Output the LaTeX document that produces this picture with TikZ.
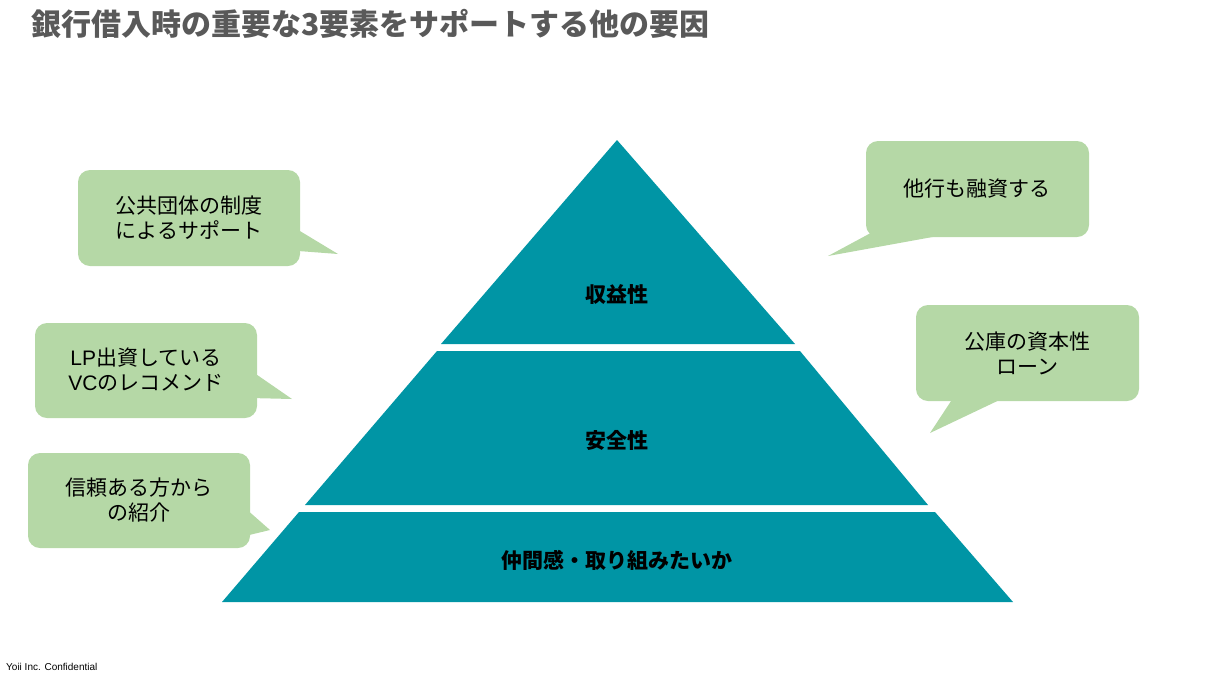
\documentclass[tikz,border=0pt]{standalone}
\usepackage{fontspec}
\newfontfamily\jp{Noto Sans CJK JP}
\newfontfamily\lat{Liberation Sans}
\definecolor{teal1}{HTML}{0095A5}
\definecolor{bub}{HTML}{B5D8A6}
\definecolor{ttl}{HTML}{595959}
\begin{document}
\begin{tikzpicture}[x=1pt,y=-1pt,
 bubble/.style={fill=bub,draw=none,rounded corners=12pt},
 btext/.style={font=\jp\fontsize{21}{25}\selectfont,align=center,text=black},
 ptext/.style={font=\jp\bfseries\fontsize{21}{25}\selectfont,text=black}]
\useasboundingbox (0,0) rectangle (1212,678);
% pyramid
\fill[teal1] (617,140) -- (795,344) -- (441,344) -- cycle;
\fill[teal1] (437,351) -- (800,351) -- (928,505) -- (305,505) -- cycle;
\fill[teal1] (299,512) -- (935,512) -- (1013,602) -- (222,602) -- cycle;
\node[ptext] (p1) at (617,295) {収益性};
\node[ptext] (p2) at (617,440) {安全性};
\node[ptext] (p3) at (617,560) {仲間感・取り組みたいか};
% bubbles
\fill[bub] (285,222) -- (285,250) -- (338,254) -- cycle;
\fill[bubble] (78,170) rectangle (300,266);
\node[btext] (b1) at (189,218) {公共団体の制度\\によるサポート};
\fill[bub] (250,370) -- (250,398) -- (292,399) -- cycle;
\fill[bubble] (35,323) rectangle (257,418);
\node[btext] (b2) at (146,370) {{\lat LP}出資している\\{\lat VC}のレコメンド};
\fill[bub] (245,508) -- (245,536) -- (270,530) -- cycle;
\fill[bubble] (28,453) rectangle (250,548);
\node[btext] (b3) at (139,500) {信頼ある方から\\の紹介};
\fill[bub] (880,228) -- (960,232) -- (828,256) -- cycle;
\fill[bubble] (866,141) rectangle (1089,237);
\node[btext] (b4) at (977,189) {他行も融資する};
\fill[bub] (955,395) -- (1010,395) -- (930,433) -- cycle;
\fill[bubble] (916,305) rectangle (1139,401);
\node[btext] (b5) at (1027,353) {公庫の資本性\\ローン};
% title and footer
\node[anchor=west,font=\jp\bfseries\fontsize{30}{34}\selectfont,text=ttl] (t) at (28,24) {銀行借入時の重要な3要素をサポートする他の要因};
\node[anchor=west,font=\lat\fontsize{10}{12}\selectfont,inner sep=0pt] (f) at (6,667) {Yoii Inc. Confidential};
\end{tikzpicture}
\end{document}
